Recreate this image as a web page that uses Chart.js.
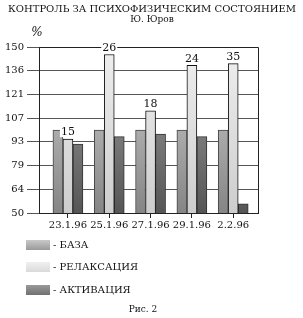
<!DOCTYPE html>
<html>
<head>
<meta charset="utf-8">
<script src="https://cdn.jsdelivr.net/npm/chart.js@4"></script>
<style>
  html, body { margin: 0; padding: 0; background: #fff; }
  #wrap { width: 303px; height: 318px; position: relative; }
</style>
</head>
<body>
<div id="wrap"><canvas id="chart"></canvas></div>
<script>
const categories = ['23.1.96', '25.1.96', '27.1.96', '29.1.96', '2.2.96'];
const baseValues = [100, 100, 100, 100, 100];
const relaxValues = [94.5, 145.5, 111.5, 139, 140];
const activValues = [91.5, 96, 97.5, 96, 55.5];
const relaxLabels = ['15', '26', '18', '24', '35'];
const yTickLabels = [50, 64, 79, 93, 107, 121, 136, 150];
const seriesNames = ['БАЗА', 'РЕЛАКСАЦИЯ', 'АКТИВАЦИЯ'];

const serif = '"DejaVu Serif", "Liberation Serif", serif';

function shade(top, bottom) {
    return function(ctx) {
        const chart = ctx.chart;
        const area = chart.chartArea;
        if (!area) return bottom;
        const g = chart.ctx.createLinearGradient(0, area.top, 0, area.bottom);
        g.addColorStop(0, top);
        g.addColorStop(1, bottom);
        return g;
    };
}

function points(values) {
    return values.map((v, i) => ({x: i, y: v}));
}

// title, %, value labels, frame and legend
const extras = {
    id: 'extras',
    afterDatasetsDraw(chart) {
        const ctx = chart.ctx;
        const area = chart.chartArea;
        ctx.save();
        ctx.strokeStyle = '#222';
        ctx.lineWidth = 1;
        ctx.beginPath();
        ctx.moveTo(area.left, area.top + 0.5);
        ctx.lineTo(area.right + 0.5, area.top + 0.5);
        ctx.lineTo(area.right + 0.5, area.bottom);
        ctx.stroke();

        ctx.font = '11px ' + serif;
        ctx.textAlign = 'center';
        ctx.textBaseline = 'bottom';
        const meta = chart.getDatasetMeta(1);
        meta.data.forEach((el, i) => {
            const t = relaxLabels[i];
            const w = ctx.measureText(t).width;
            ctx.fillStyle = '#fff';
            ctx.fillRect(el.x - w / 2 - 1, el.y - 12, w + 2, 10);
            ctx.fillStyle = '#111';
            ctx.fillText(t, el.x, el.y - 1);
        });
        ctx.restore();
    },
    afterDraw(chart) {
        const ctx = chart.ctx;
        ctx.save();
        ctx.fillStyle = '#111';
        ctx.textBaseline = 'middle';
        ctx.textAlign = 'center';
        ctx.font = '10px ' + serif;
        ctx.fillText('КОНТРОЛЬ ЗА ПСИХОФИЗИЧЕСКИМ СОСТОЯНИЕМ', 152, 9);
        ctx.font = '9px ' + serif;
        ctx.fillText('Ю. Юров', 152, 20);
        ctx.font = 'italic 12px ' + serif;
        ctx.fillText('%', 37, 33);

        const rows = [245, 267, 290];
        chart.data.datasets.forEach((ds, i) => {
            const y = rows[i];
            const g = ctx.createLinearGradient(0, y - 5, 0, y + 5);
            const cols = ds.legendColors;
            g.addColorStop(0, cols[0]);
            g.addColorStop(1, cols[1]);
            ctx.fillStyle = g;
            ctx.fillRect(26, y - 5, 24, 10);
            ctx.fillStyle = '#111';
            ctx.font = '10px ' + serif;
            ctx.textAlign = 'left';
            ctx.fillText('- ' + ds.label, 53, y);
        });
        ctx.textAlign = 'center';
        ctx.font = '9px ' + serif;
        ctx.fillText('Рис. 2', 143, 310);
        ctx.restore();
    }
};

new Chart(document.getElementById('chart'), {
    type: 'bar',
    data: {
        datasets: [
            {
                label: seriesNames[0],
                data: points(baseValues),
                backgroundColor: shade('#d2d2d2', '#858585'),
                legendColors: ['#c8c8c8', '#9a9a9a'],
                borderColor: '#444',
                borderWidth: 1
            },
            {
                label: seriesNames[1],
                data: points(relaxValues),
                backgroundColor: shade('#efefef', '#cdcdcd'),
                legendColors: ['#f0f0f0', '#dadada'],
                borderColor: '#111',
                borderWidth: 1
            },
            {
                label: seriesNames[2],
                data: points(activValues),
                backgroundColor: shade('#a5a5a5', '#555555'),
                legendColors: ['#9a9a9a', '#707070'],
                borderColor: '#333',
                borderWidth: 1
            }
        ]
    },
    options: {
        responsive: true,
        maintainAspectRatio: false,
        animation: false,
        layout: { padding: { top: 47, right: 45, bottom: 88, left: 0 } },
        datasets: { bar: { barThickness: 10 } },
        plugins: {
            legend: { display: false },
            tooltip: { enabled: false }
        },
        scales: {
            x: {
                type: 'linear',
                offset: false,
                min: -0.7,
                max: 4.6,
                afterBuildTicks: (scale) => {
                    scale.ticks = categories.map((c, i) => ({value: i}));
                },
                afterFit: (scale) => { scale.height = 17; },
                ticks: {
                    callback: (v) => categories[v],
                    color: '#111',
                    font: { family: serif, size: 10 },
                    padding: 1,
                    maxRotation: 0,
                    autoSkip: false
                },
                grid: { drawOnChartArea: false, tickLength: 5, color: '#222', offset: false },
                border: { color: '#222' }
            },
            y: {
                min: 50,
                max: 150,
                afterBuildTicks: (scale) => {
                    scale.ticks = yTickLabels.map((t, i) => ({value: 50 + i * 100 / (yTickLabels.length - 1)}));
                },
                afterFit: (scale) => { scale.width = 39; },
                ticks: {
                    callback: (v, i) => yTickLabels[i],
                    color: '#111',
                    font: { family: serif, size: 10 },
                    padding: 3
                },
                grid: { color: '#555', tickLength: 12 },
                border: { color: '#222' }
            }
        }
    },
    plugins: [extras]
});
</script>
</body>
</html>
